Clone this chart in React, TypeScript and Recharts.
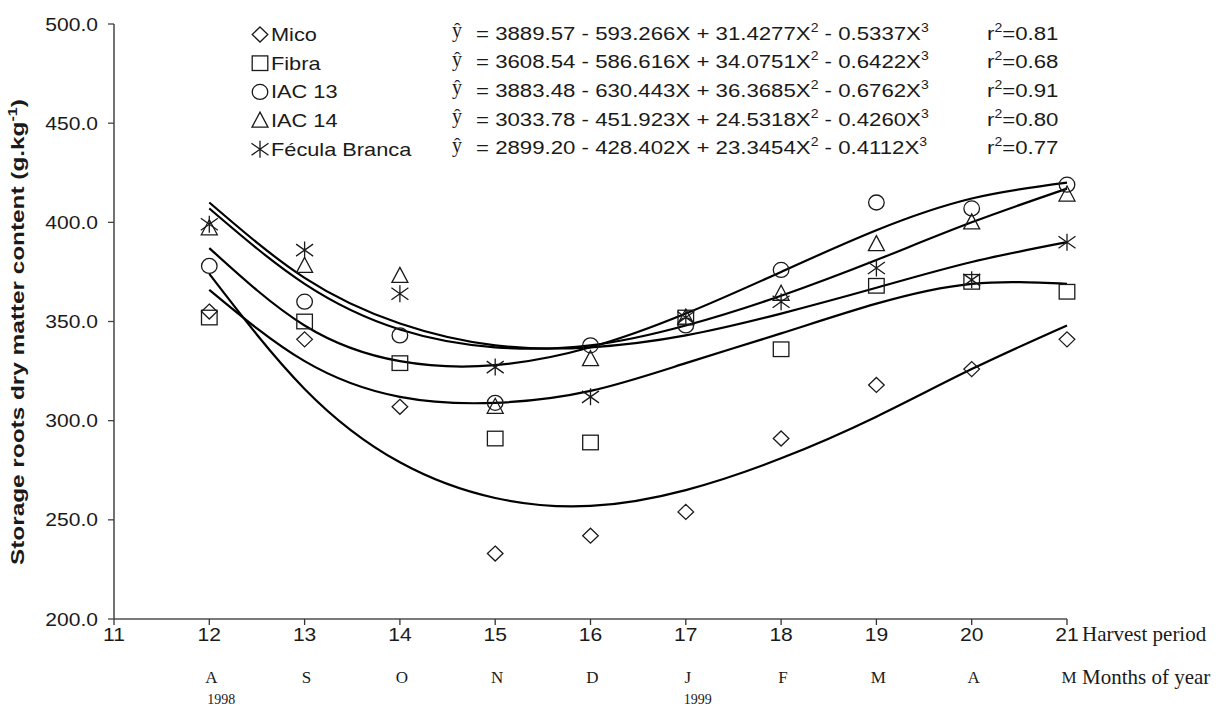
import { ComposedChart, Line, Scatter, XAxis, YAxis } from 'recharts';

const harvest = [12, 13, 14, 15, 16, 17, 18, 19, 20, 21];
const xTicks = [11, 12, 13, 14, 15, 16, 17, 18, 19, 20, 21];
const yTicks = [200, 250, 300, 350, 400, 450, 500];
const months = ['', 'A', 'S', 'O', 'N', 'D', 'J', 'F', 'M', 'A', 'M'];
const years = ['', '1998', '', '', '', '', '1999', '', '', '', ''];

// observed values per harvest
const micoObs = [355, 341, 307, 233, 242, 254, 291, 318, 326, 341];
const fibraObs = [352, 350, 329, 291, 289, 352, 336, 368, 370, 365];
const iac13Obs = [378, 360, 343, 309, 338, 348, 376, 410, 407, 419];
const iac14Obs = [397, 378, 373, 307, 331, 352, 364, 389, 400, 414];
const feculaObs = [399, 386, 364, 327, 312, 352, 360, 377, 371, 390];

// fitted curves read at each harvest
const micoFit = [374, 316, 279, 261, 257, 265, 281, 302, 326, 348];
const fibraFit = [366, 330, 312, 309, 315, 329, 344, 359, 369, 369];
const iac13Fit = [387, 348, 330, 328, 337, 354, 375, 396, 412, 420];
const iac14Fit = [407, 369, 346, 337, 338, 348, 363, 381, 400, 417];
const feculaFit = [410, 372, 349, 338, 337, 343, 354, 367, 380, 390];

const names = ['Mico', 'Fibra', 'IAC 13', 'IAC 14', 'Fécula Branca'];
const eqA = ['3889.57', '3608.54', '3883.48', '3033.78', '2899.20'];
const eqB = ['593.266', '586.616', '630.443', '451.923', '428.402'];
const eqC = ['31.4277', '34.0751', '36.3685', '24.5318', '23.3454'];
const eqD = ['0.5337', '0.6422', '0.6762', '0.4260', '0.4112'];
const r2 = ['0.81', '0.68', '0.91', '0.80', '0.77'];

const SANS = 'Liberation Sans, Arial, sans-serif';
const SERIF = 'Liberation Serif, Times New Roman, serif';
const SX = 1.17;
const INK = '#1a1a1a';

type Kind = 'diamond' | 'square' | 'circle' | 'triangle' | 'star';
const kinds: Kind[] = ['diamond', 'square', 'circle', 'triangle', 'star'];

function marker(kind: Kind, cx: number, cy: number, key?: string) {
  const p = { fill: 'none', stroke: INK, strokeWidth: 1.3 };
  if (kind === 'diamond')
    return <path key={key} d={`M${cx},${cy - 7.5}L${cx + 7.8},${cy}L${cx},${cy + 7.5}L${cx - 7.8},${cy}Z`} {...p} />;
  if (kind === 'square') return <rect key={key} x={cx - 7.8} y={cy - 7.3} width={15.6} height={14.6} {...p} />;
  if (kind === 'circle') return <ellipse key={key} cx={cx} cy={cy} rx={7.8} ry={7.5} {...p} />;
  if (kind === 'triangle')
    return <path key={key} d={`M${cx},${cy - 8.5}L${cx + 8},${cy + 6.5}L${cx - 8},${cy + 6.5}Z`} {...p} />;
  return (
    <path
      key={key}
      d={`M${cx},${cy - 8.5}L${cx},${cy + 8.5}M${cx - 8.5},${cy - 6}L${cx + 8.5},${cy + 6}M${cx - 8.5},${cy + 6}L${cx + 8.5},${cy - 6}`}
      {...p}
    />
  );
}

const obs = [micoObs, fibraObs, iac13Obs, iac14Obs, feculaObs];
const fits = [micoFit, fibraFit, iac13Fit, iac14Fit, feculaFit];
const toPts = (vals: number[]) => harvest.map((x, i) => ({ x, y: vals[i] }));

function YTick({ x, y, payload }: any) {
  return (
    <g transform={`translate(${x - 10},${y + 6.5}) scale(${SX},1)`}>
      <text textAnchor="end" fontFamily={SANS} fontSize={18} fill={INK}>
        {Number(payload.value).toFixed(1)}
      </text>
    </g>
  );
}

function XTick({ x, y, payload }: any) {
  const i = xTicks.indexOf(payload.value);
  return (
    <g>
      <g transform={`translate(${x},${y + 16}) scale(${SX},1)`}>
        <text textAnchor="middle" fontFamily={SANS} fontSize={18} fill={INK}>
          {payload.value}
        </text>
      </g>
      <text x={x + 2} y={y + 58} textAnchor="middle" fontFamily={SERIF} fontSize={17} fill={INK}>
        {months[i]}
      </text>
      <text x={x + 12} y={y + 79} textAnchor="middle" fontFamily={SERIF} fontSize={14} fill={INK}>
        {years[i]}
      </text>
    </g>
  );
}

function Overlay() {
  return (
    <svg width={1218} height={706} style={{ position: 'absolute', left: 0, top: 0, pointerEvents: 'none' }}>
      <text
        transform="translate(24,332) rotate(-90)"
        textAnchor="middle"
        fontFamily={SANS}
        fontWeight="bold"
        fontSize={18}
        fill={INK}
        textLength={466}
        lengthAdjust="spacingAndGlyphs"
      >
        Storage roots dry matter content (g.kg<tspan dy={-7} fontSize={12}>-1</tspan>
        <tspan dy={7}>)</tspan>
      </text>
      {names.map((n, i) => {
        const base = 41 + i * 28.7;
        return (
          <g key={n}>
            {marker(kinds[i], 260, base - 6.5)}
            <g transform={`translate(271,${base}) scale(${SX},1)`}>
              <text fontFamily={SANS} fontSize={18.6} fill={INK}>
                {n}
              </text>
            </g>
            <text x={452} y={base - 4} fontFamily={SERIF} fontSize={20} fill={INK}>
              ŷ
            </text>
            <g transform={`translate(476,${base - 1.5}) scale(${SX},1)`}>
              <text fontFamily={SANS} fontSize={19} fill={INK}>
                {`= ${eqA[i]} - ${eqB[i]}X + ${eqC[i]}X`}
                <tspan dy={-8} fontSize={12}>
                  2
                </tspan>
                <tspan dy={8}>{` - ${eqD[i]}X`}</tspan>
                <tspan dy={-8} fontSize={12}>
                  3
                </tspan>
              </text>
            </g>
            <g transform={`translate(987,${base - 1.5}) scale(${SX},1)`}>
              <text fontFamily={SANS} fontSize={19} fill={INK}>
                r<tspan dy={-8} fontSize={12}>2</tspan>
                <tspan dy={8}>{`=${r2[i]}`}</tspan>
              </text>
            </g>
          </g>
        );
      })}
      <text x={1082} y={641} fontFamily={SERIF} fontSize={21} fill={INK}>
        Harvest period
      </text>
      <text x={1082} y={684} fontFamily={SERIF} fontSize={21} fill={INK}>
        Months of year
      </text>
    </svg>
  );
}

export default function App() {
  return (
    <div style={{ position: 'absolute', left: 0, top: 0, width: 1218, height: 706, background: '#fff' }}>
      <ComposedChart width={1218} height={706} margin={{ top: 24, right: 151, left: 54, bottom: 7 }}>
        <XAxis
          type="number"
          dataKey="x"
          domain={[11, 21]}
          ticks={xTicks}
          interval={0}
          height={80}
          tickSize={6}
          tickMargin={0}
          stroke="#7a7a7a"
          strokeWidth={2}
          tickLine={{ stroke: '#333', strokeWidth: 1.3 }}
          tick={<XTick />}
        />
        <YAxis
          type="number"
          dataKey="y"
          domain={[200, 500]}
          ticks={yTicks}
          interval={0}
          width={60}
          tickSize={6}
          tickMargin={0}
          stroke="#444"
          strokeWidth={1.5}
          tickLine={{ stroke: '#444', strokeWidth: 1.3 }}
          tick={<YTick />}
        />
        {fits.map((f, i) => (
          <Line
            key={`fit-${i}`}
            data={toPts(f)}
            dataKey="y"
            type="natural"
            stroke="#000"
            strokeWidth={2.2}
            dot={false}
            activeDot={false}
            isAnimationActive={false}
          />
        ))}
        {obs.map((o, i) => (
          <Scatter
            key={`obs-${i}`}
            data={toPts(o)}
            dataKey="y"
            isAnimationActive={false}
            shape={(props: any) => marker(kinds[i], props.cx, props.cy)}
          />
        ))}
      </ComposedChart>
      <Overlay />
    </div>
  );
}
